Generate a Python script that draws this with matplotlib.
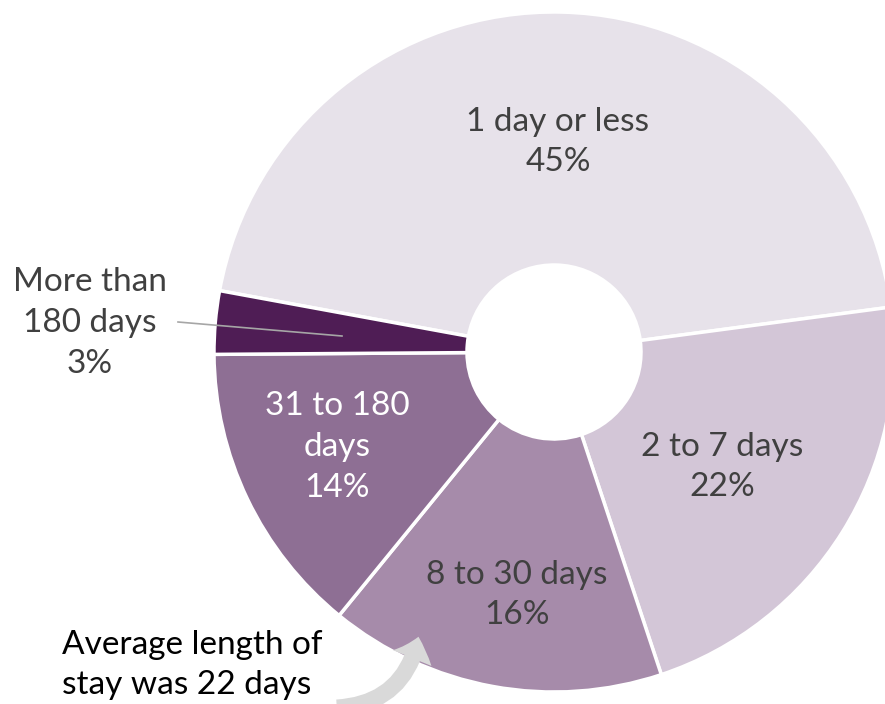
import matplotlib
matplotlib.use("Agg")
import matplotlib.pyplot as plt
from matplotlib.patches import FancyArrowPatch

plt.rcParams['font.family'] = ['Lato', 'DejaVu Sans']

# 数据
categories = ['1 day or less', '2 to 7 days', '8 to 30 days', '31 to 180 days', 'More than 180 days']
shares = [45, 22, 16, 14, 3]
labels = ['1 day or less\n45%', '2 to 7 days\n22%', '8 to 30 days\n16%',
          '31 to 180\ndays\n14%', 'More than\n180 days\n3%']
colors = ['#E7E2EA', '#D3C6D7', '#A68BAA', '#8E6F94', '#4F1D55']
text_colors = ['#404040', '#404040', '#404040', 'white', '#404040']

# 画布（像素坐标）
W, H = 885, 704
CX, CY = 554, H - 352
R = 340
HOLE = 87

fig = plt.figure(figsize=(W / 100, H / 100), dpi=100)
ax = fig.add_axes([0, 0, 1, 1])

wedges, _ = ax.pie(shares, radius=R, center=(CX, CY), startangle=169.6,
                   counterclock=False, colors=colors,
                   wedgeprops=dict(width=R - HOLE, edgecolor='white', linewidth=2.5))

ax.set_xlim(0, W)
ax.set_ylim(0, H)
ax.set_aspect('equal')
ax.axis('off')

# 标签位置（图像像素，y 向下）
label_pos = [(558, 142), (722, 467), (517, 595), (337, 447), (90, 323)]
for lab, (x, y), tc in zip(labels, label_pos, text_colors):
    ax.text(x, H - y, lab, ha='center', va='center', fontsize=24,
            color=tc, linespacing=1.45)

# 引导线
ax.plot([178, 342], [H - 322, H - 336], color='#A6A6A6', lw=1.2)

# 注释文字
ax.text(62, H - 665, 'Average length of\nstay was 22 days', ha='left', va='center',
        fontsize=24, color='black', linespacing=1.45)

# 弯曲箭头
arrow = FancyArrowPatch((334, H - 708), (419, H - 634),
                        connectionstyle='arc3,rad=0.4',
                        arrowstyle='simple,head_length=16,head_width=30,tail_width=12',
                        mutation_scale=1, fc='#D9D9D9', ec='none', zorder=5)
ax.add_patch(arrow)

fig.savefig('out.png', dpi=100)
